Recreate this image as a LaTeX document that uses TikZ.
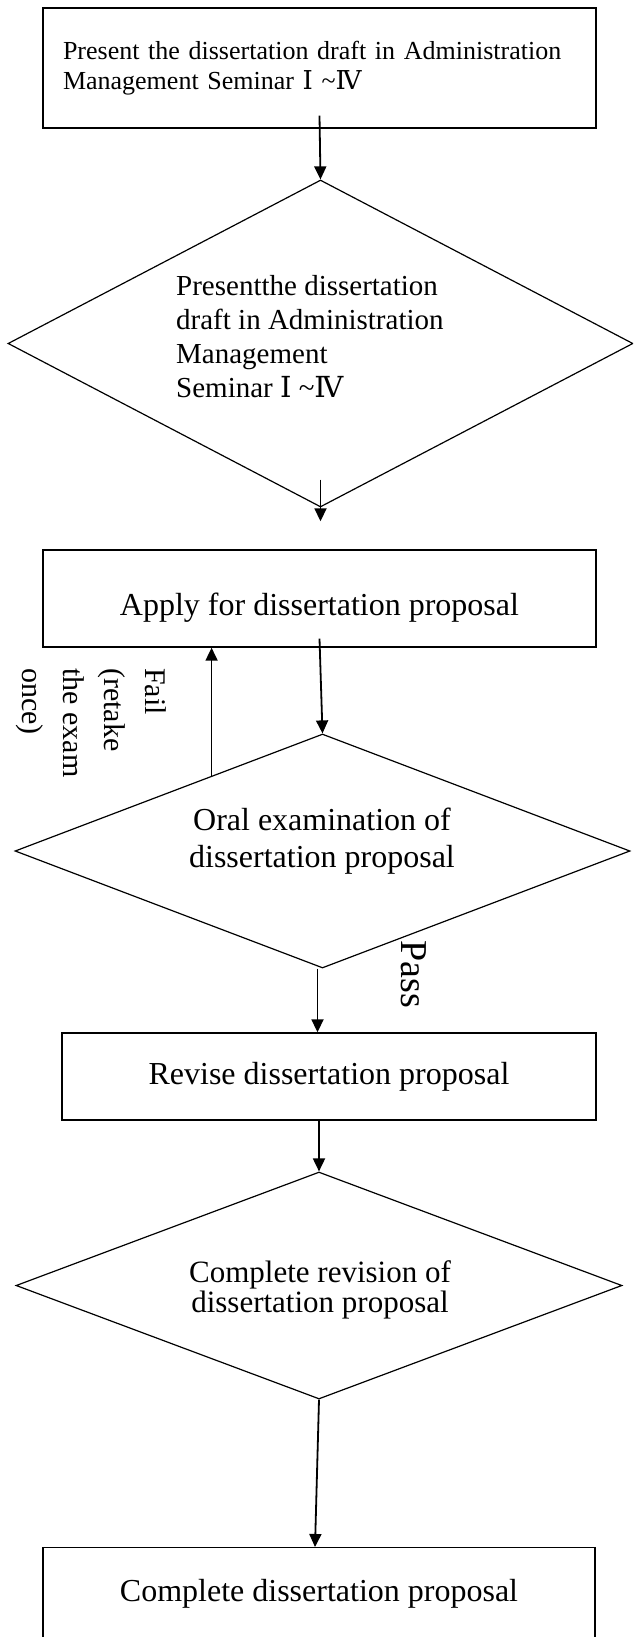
\documentclass[tikz,border=0pt]{standalone}
\usepackage{fontspec}
\setmainfont{Liberation Serif}
\newfontfamily\romfont{DejaVu Serif}
\usetikzlibrary{shapes.geometric,arrows.meta,calc}

\newcommand{\romI}{{\romfont Ⅰ}}
\newcommand{\romIV}{{\romfont Ⅳ}}

\begin{document}
\begin{tikzpicture}[x=1pt, y=-1pt,
    box/.style={draw, line width=1.4pt, inner sep=0pt},
    decision/.style={draw, diamond, aspect=1, line width=1.2pt, inner sep=0pt},
    arr/.style={-{Triangle[length=13pt,width=12pt]}, line width=1.8pt}]

    \useasboundingbox (0,0) rectangle (633,1637);
    \clip (0,0) rectangle (633,1637);

    % Seminar draft
    \node[box, minimum width=553pt, minimum height=120pt, text width=513pt, inner xsep=20pt,
          align=left, font=\fontsize{26}{30}\selectfont] (present) at (319.5,68)
        {Present the dissertation draft in Administration Management Seminar \romI{} \textasciitilde\romIV};

    \node[decision, minimum width=625pt, minimum height=327pt] (seminar) at (320.5,343.5) {};
    \node[anchor=west, align=left, inner sep=0pt, font=\fontsize{29}{34}\selectfont] (seminartext) at (176,337)
        {Presentthe dissertation\\draft in Administration\\Management\\Seminar \romI{} \textasciitilde\romIV};

    % Proposal and oral exam
    \node[box, minimum width=553pt, text height=65pt, text depth=32pt, font=\fontsize{32}{37}\selectfont] (apply) at (319.5,598.5)
        {Apply for dissertation proposal};

    \node[decision, minimum width=615pt, minimum height=234pt] (oral) at (322.5,851) {};
    \node[align=center, inner sep=0pt, font=\fontsize{32}{37}\selectfont] (oraltext) at (322,841)
        {Oral examination of\\dissertation proposal};

    \node[rotate=-90, anchor=north west, align=left, inner sep=0pt, font=\fontsize{30}{41}\selectfont] (faillabel) at (167,668)
        {Fail\\(retake\\the exam\\once)};
    \node[rotate=-90, inner sep=0pt, font=\fontsize{38}{42}\selectfont] (passlabel) at (414,974) {Pass};

    % Revision
    \node[box, minimum width=534pt, minimum height=87pt, font=\fontsize{32}{37}\selectfont] (revise) at (329,1076.5)
        {Revise dissertation proposal};

    \node[decision, minimum width=606pt, minimum height=227pt] (revdone) at (319,1285.5) {};
    \node[align=center, inner sep=0pt, font=\fontsize{31}{30}\selectfont] (revdonetext) at (320,1290)
        {Complete revision of\\dissertation proposal};

    \node[box, anchor=north, minimum width=552pt, inner ysep=32pt, text depth=60pt,
          font=\fontsize{32}{37}\selectfont] (complete) at (319,1547)
        {Complete dissertation proposal};

    % Arrows
    \coordinate (failstart) at ($(oral.north)!0.36!(oral.west)$);
    \draw[arr] ([yshift=13pt]present.south) -- (seminar.north);
    \draw[arr] ([yshift=28pt]seminar.south) -- ([yshift=28pt]seminar.south |- apply.north);
    \draw[arr] ([yshift=9pt]apply.south) -- (oral.north);
    \draw[arr] (failstart) -- (failstart |- apply.south);
    \draw[arr] ([xshift=-5pt]oral.south) -- ([xshift=-5pt]oral.south |- revise.north);
    \draw[arr] (revdone.north |- revise.south) -- (revdone.north);
    \draw[arr] (revdone.south) -- ([xshift=-4pt]complete.north);
\end{tikzpicture}
\end{document}
